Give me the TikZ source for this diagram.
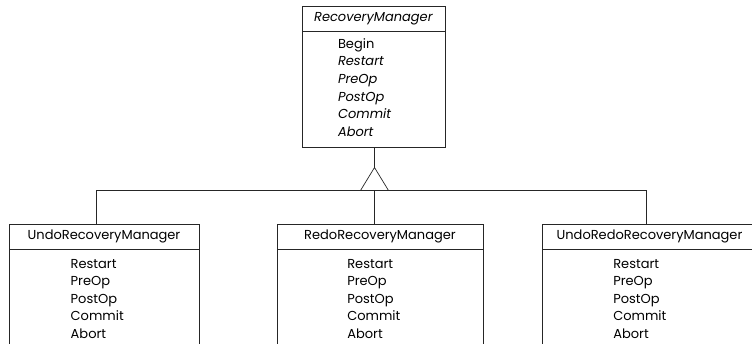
\documentclass[tikz,border=0pt]{standalone}
\usepackage{fontspec}
\setmainfont{Poppins}
\usetikzlibrary{positioning, shapes.geometric}

\tikzset{
  titlebox/.style={draw, minimum height=25pt},
  bodybox/.style={draw, minimum height=#1},
  opname/.style={anchor=base west}
}

\begin{document}
\begin{tikzpicture}[x=1pt,y=-1pt,every node/.style={inner sep=0pt,outer sep=0pt},font=\fontsize{13}{16}\selectfont,line width=0.7pt,draw=black!85]
    \clip (0,0) rectangle (752,343);
    % abstract base class
    \node[titlebox,minimum width=143pt] (rm-title) at (373.5,18.5) {\textit{RecoveryManager}};
    \node[bodybox=116pt,minimum width=143pt,below=0pt of rm-title] (rm-body) {};
    \node[opname] (rm-op-1) at (338,48) {Begin};
    \foreach \op [count=\i from 2] in {Restart,PreOp,PostOp,Commit,Abort}
        \node[opname] (rm-op-\i) at (338,{48+17.7*(\i-1)}) {\textit{\op}};

    % subclasses
    \foreach \cls/\cx/\w/\lx in {undo/104/190/70.7, redo/380/206/347.3, undoredo/649.5/215/613.3} {
        \node[bodybox=120pt,minimum width=\w pt,anchor=north] (\cls-body) at (\cx,249) {};
        \foreach \op [count=\i] in {Restart,PreOp,PostOp,Commit,Abort}
            \node[opname] (\cls-op-\i) at (\lx,{268+17.5*(\i-1)}) {\op};
    }
    \node[titlebox,minimum width=190pt,above=0pt of undo-body] (undo-title) {UndoRecoveryManager};
    \node[titlebox,minimum width=206pt,above=0pt of redo-body] (redo-title) {RedoRecoveryManager};
    \node[titlebox,minimum width=215pt,above=0pt of undoredo-body] (undoredo-title) {UndoRedoRecoveryManager};

    % generalisation
    \node[draw,isosceles triangle,shape border rotate=90,isosceles triangle stretches,
          minimum width=28pt,minimum height=23pt,anchor=apex] (gen) at (374.5,167.5) {};
    \coordinate (undo-in) at (96,224);
    \coordinate (undoredo-in) at (646.7,224);
    \draw (rm-body.south -| gen.apex) -- (gen.apex);
    \draw (gen.south) -- (gen.south |- redo-title.north);
    \draw (undo-in) |- (gen.south) -| (undoredo-in);
\end{tikzpicture}
\end{document}
